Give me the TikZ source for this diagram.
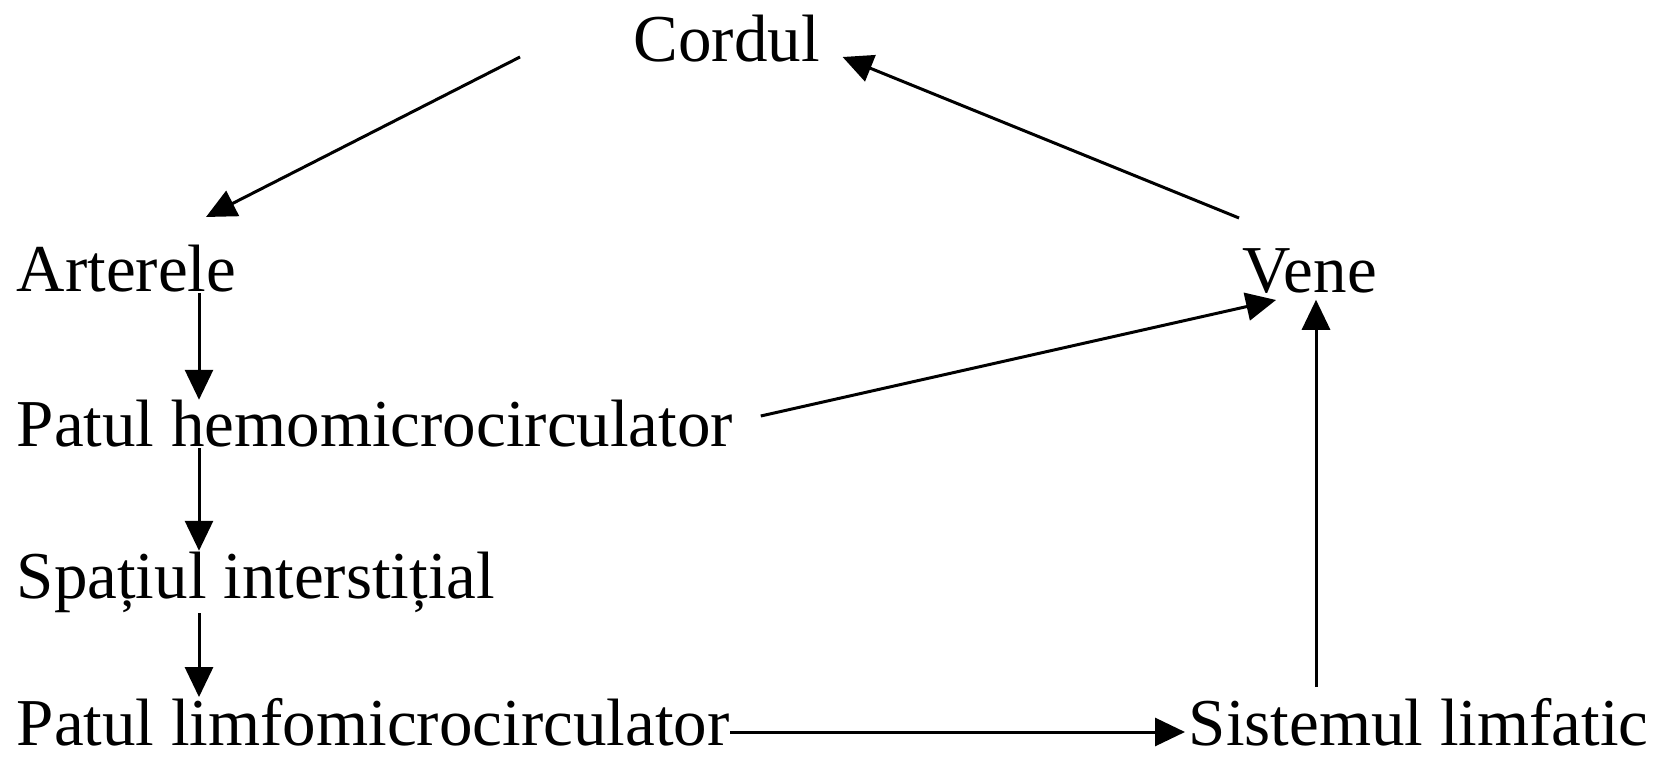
\documentclass[tikz,border=0pt]{standalone}
\usepackage{fontspec}
\setmainfont{Liberation Serif}
\usetikzlibrary{arrows.meta}

\tikzset{every picture/.style={line width=0.75pt}}
\tikzset{
  lbl/.style={anchor=base west, inner sep=0pt, font=\fontsize{33.5}{40}\selectfont},
  flow/.style={line width=1.5pt, -{Triangle[length=15pt,width=14pt]}}
}

\begin{document}
\begin{tikzpicture}[x=0.5pt,y=0.5pt,yscale=-1,xscale=1]
\useasboundingbox (0,0) rectangle (1653,758);

% Text Node
\node [lbl] (cordul) at (633,62) {Cordul};
% Text Node
\node [lbl] (arterele) at (16,292) {Arterele};
% Text Node
\node [lbl] (vene) at (1242,293) {Vene};
% Text Node
\node [lbl] (hemo) at (16,447) {Patul hemomicrocirculator};
% Text Node
\node [lbl] (spatiu) at (16,598) {Spațiul interstițial};
% Text Node
\node [lbl] (limfo) at (16,745) {Patul limfomicrocirculator};
% Text Node
\node [lbl] (sistem) at (1188,745) {Sistemul limfatic};

\coordinate (col) at (199,0);
\coordinate (up) at (1316,0);

%Straight Lines
\draw [flow] ([shift={(-113,-5)}]cordul.base west) -- ([shift={(190,-75)}]arterele.base west);
%Straight Lines
\draw [flow] ([shift={(-3,-75)}]vene.base west) -- ([shift={(22,-5)}]cordul.base east);
%Straight Lines
\draw [flow] ([shift={(27,-31)}]hemo.base east) -- ([shift={(34,7)}]vene.base west);
%Straight Lines
\draw [flow] (arterele.south -| col) -- (hemo.north -| col);
\draw [flow] (hemo.south -| col) -- (spatiu.north -| col);
\draw [flow] (spatiu.south -| col) -- (limfo.north -| col);
%Straight Lines
\draw [flow] ([shift={(0,-13)}]limfo.base east) -- ([shift={(-3,-13)}]sistem.base west);
%Straight Lines
\draw [flow, shorten <=5pt, shorten >=2.5pt] (sistem.north -| up) -- (vene.south -| up);

\end{tikzpicture}
\end{document}
